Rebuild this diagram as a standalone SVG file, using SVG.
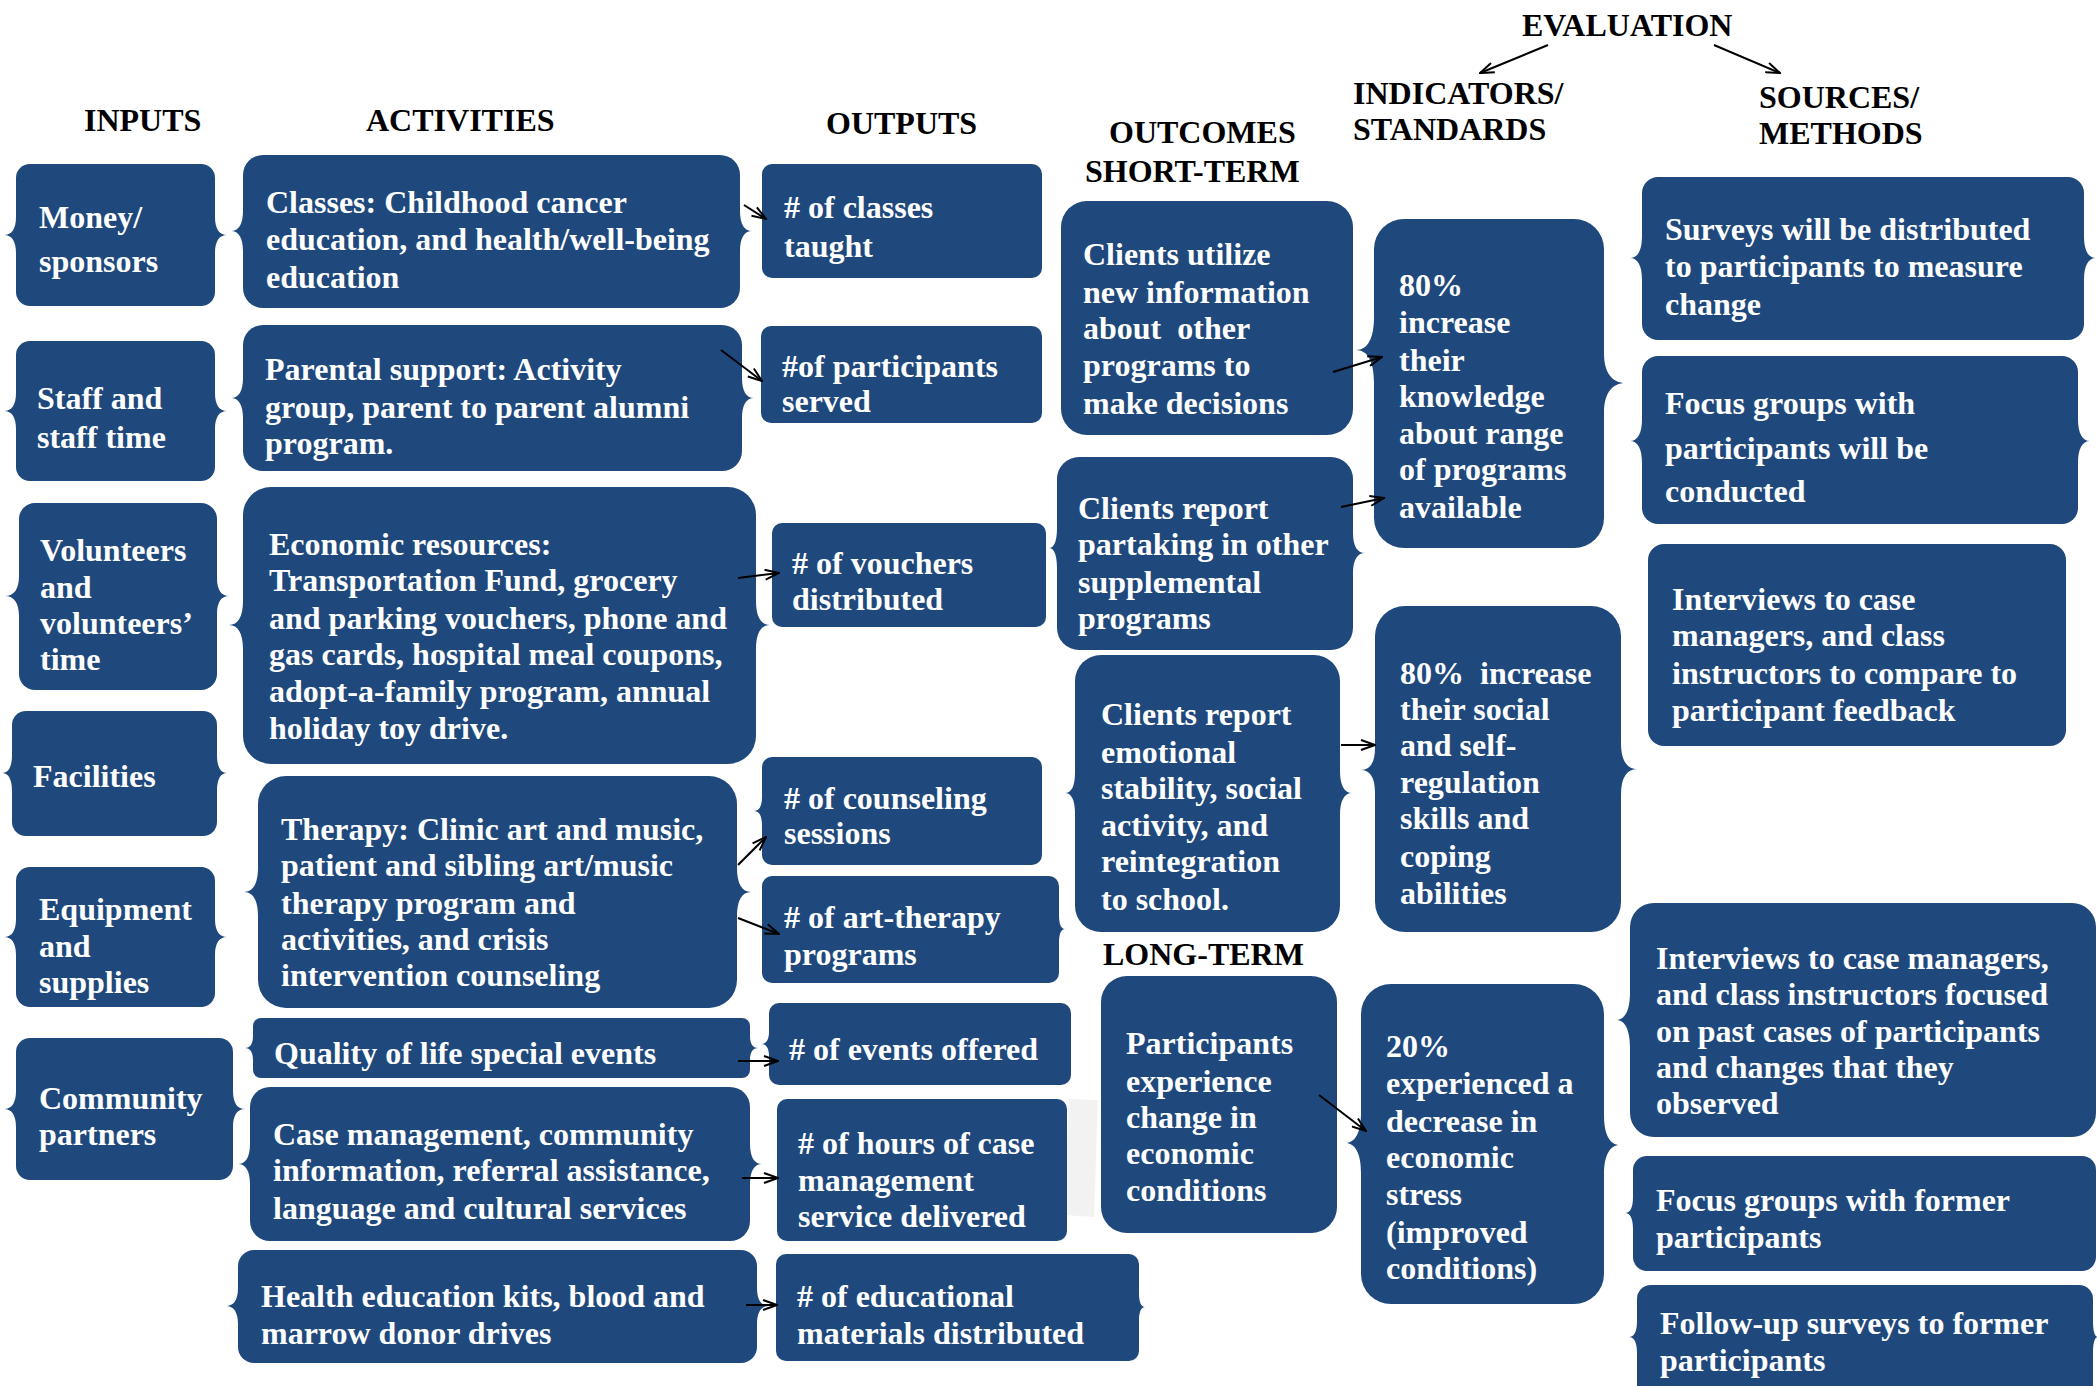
<svg xmlns="http://www.w3.org/2000/svg" xmlns:xlink="http://www.w3.org/1999/xlink" width="2097" height="1386" viewBox="0 0 2097 1386">
<style>
.n rect,.n use{fill:#1f497d}
.t{font-family:"Liberation Serif","Times New Roman",serif;font-weight:bold;font-size:32px;fill:#ffffff}
.h{font-family:"Liberation Serif","Times New Roman",serif;font-weight:bold;font-size:32px;fill:#000000}
.c line{stroke:#000;stroke-width:2;marker-end:url(#ah)}
</style>
<defs>
<path id="br" d="M-0.3,-1 L0,-1 C0,-0.35 0.35,0 1,0 C0.35,0 0,0.35 0,1 L-0.3,1 Z"/>
<marker id="ah" viewBox="0 0 16 12" refX="15" refY="6" markerWidth="16" markerHeight="12" markerUnits="userSpaceOnUse" orient="auto"><path d="M1,1 L15,6 L1,11" fill="none" stroke="#000" stroke-width="2"/></marker>
</defs>
<rect width="2097" height="1386" fill="#ffffff"/>

<g id="headers">
<text class="h" x="84" y="131">INPUTS</text>
<text class="h" x="366" y="131">ACTIVITIES</text>
<text class="h" x="826" y="134">OUTPUTS</text>
<text class="h" x="1109" y="143">OUTCOMES</text>
<text class="h" x="1085" y="182">SHORT-TERM</text>
<text class="h" x="1522" y="36">EVALUATION</text>
<text class="h" x="1353" y="104">INDICATORS/</text>
<text class="h" x="1353" y="140">STANDARDS</text>
<text class="h" x="1759" y="108">SOURCES/</text>
<text class="h" x="1759" y="144">METHODS</text>
<text class="h" x="1103" y="965">LONG-TERM</text>
</g>

<polygon points="1069,1099 1098,1100 1094,1217 1064,1215" fill="#f2f2f2"/>

<g id="in-money" class="n"><rect x="16" y="164" width="199" height="142" rx="14"/><use href="#br" transform="translate(16,235) scale(-12,18)"/><use href="#br" transform="translate(215,235) scale(12,18)"/>
<text class="t"><tspan x="39" y="228">Money/</tspan><tspan x="39" y="272">sponsors</tspan></text></g>
<g id="in-staff" class="n"><rect x="16" y="341" width="199" height="140" rx="14"/><use href="#br" transform="translate(16,411) scale(-12,18)"/><use href="#br" transform="translate(215,411) scale(12,18)"/>
<text class="t"><tspan x="37" y="409">Staff and</tspan><tspan x="37" y="448">staff time</tspan></text></g>
<g id="in-vol" class="n"><rect x="19" y="503" width="198" height="187" rx="16"/><use href="#br" transform="translate(19,596) scale(-14,20)"/><use href="#br" transform="translate(217,596) scale(12,18)"/>
<text class="t"><tspan x="40" y="561">Volunteers</tspan><tspan x="40" y="598">and</tspan><tspan x="40" y="634">volunteers’</tspan><tspan x="40" y="670">time</tspan></text></g>
<g id="in-fac" class="n"><rect x="12" y="711" width="205" height="125" rx="14"/><use href="#br" transform="translate(12,773) scale(-10,18)"/><use href="#br" transform="translate(217,773) scale(10,18)"/>
<text class="t"><tspan x="33" y="787">Facilities</tspan></text></g>
<g id="in-equip" class="n"><rect x="16" y="867" width="199" height="140" rx="14"/><use href="#br" transform="translate(16,937) scale(-12,18)"/><use href="#br" transform="translate(215,937) scale(12,18)"/>
<text class="t"><tspan x="39" y="920">Equipment</tspan><tspan x="39" y="957">and</tspan><tspan x="39" y="993">supplies</tspan></text></g>
<g id="in-comm" class="n"><rect x="16" y="1038" width="217" height="142" rx="14"/><use href="#br" transform="translate(16,1109) scale(-12,18)"/><use href="#br" transform="translate(233,1109) scale(12,18)"/>
<text class="t"><tspan x="39" y="1109">Community</tspan><tspan x="39" y="1145">partners</tspan></text></g>

<g id="act-classes" class="n"><rect x="243" y="155" width="497" height="153" rx="20"/><use href="#br" transform="translate(243,231) scale(-12,20)"/><use href="#br" transform="translate(740,231) scale(12,20)"/>
<text class="t"><tspan x="266" y="213">Classes: Childhood cancer</tspan><tspan x="266" y="250">education, and health/well-being</tspan><tspan x="266" y="288">education</tspan></text></g>
<g id="act-parental" class="n"><rect x="243" y="325" width="499" height="146" rx="20"/><use href="#br" transform="translate(243,398) scale(-12,20)"/><use href="#br" transform="translate(742,398) scale(12,20)"/>
<text class="t"><tspan x="265" y="380">Parental support: Activity</tspan><tspan x="265" y="418">group, parent to parent alumni</tspan><tspan x="265" y="454">program.</tspan></text></g>
<g id="act-econ" class="n"><rect x="243" y="487" width="513" height="277" rx="28"/><use href="#br" transform="translate(243,625) scale(-14,24)"/><use href="#br" transform="translate(756,625) scale(14,24)"/>
<text class="t"><tspan x="269" y="555">Economic resources:</tspan><tspan x="269" y="591">Transportation Fund, grocery</tspan><tspan x="269" y="629">and parking vouchers, phone and</tspan><tspan x="269" y="665">gas cards, hospital meal coupons,</tspan><tspan x="269" y="702">adopt-a-family program, annual</tspan><tspan x="269" y="739">holiday toy drive.</tspan></text></g>
<g id="act-therapy" class="n"><rect x="258" y="776" width="479" height="232" rx="28"/><use href="#br" transform="translate(258,892) scale(-14,24)"/><use href="#br" transform="translate(737,892) scale(14,24)"/>
<text class="t"><tspan x="281" y="840">Therapy: Clinic art and music,</tspan><tspan x="281" y="876">patient and sibling art/music</tspan><tspan x="281" y="914">therapy program and</tspan><tspan x="281" y="950">activities, and crisis</tspan><tspan x="281" y="986">intervention counseling</tspan></text></g>
<g id="act-quality" class="n"><rect x="253" y="1018" width="497" height="60" rx="8"/><use href="#br" transform="translate(253,1048) scale(-8,12)"/><use href="#br" transform="translate(750,1048) scale(8,12)"/>
<text class="t"><tspan x="274" y="1064">Quality of life special events</tspan></text></g>
<g id="act-case" class="n"><rect x="250" y="1087" width="500" height="154" rx="20"/><use href="#br" transform="translate(250,1164) scale(-12,20)"/><use href="#br" transform="translate(750,1164) scale(12,20)"/>
<text class="t"><tspan x="273" y="1145">Case management, community</tspan><tspan x="273" y="1181">information, referral assistance,</tspan><tspan x="273" y="1219">language and cultural services</tspan></text></g>
<g id="act-health" class="n"><rect x="238" y="1250" width="519" height="113" rx="16"/><use href="#br" transform="translate(238,1306) scale(-12,18)"/><use href="#br" transform="translate(757,1306) scale(12,18)"/>
<text class="t"><tspan x="261" y="1307">Health education kits, blood and</tspan><tspan x="261" y="1344">marrow donor drives</tspan></text></g>

<g id="out-classes" class="n"><rect x="762" y="164" width="280" height="114" rx="10"/>
<text class="t"><tspan x="784" y="218"># of classes</tspan><tspan x="784" y="257">taught</tspan></text></g>
<g id="out-part" class="n"><rect x="761" y="326" width="281" height="97" rx="10"/>
<text class="t"><tspan x="782" y="377">#of participants</tspan><tspan x="782" y="412">served</tspan></text></g>
<g id="out-vouch" class="n"><rect x="772" y="523" width="274" height="104" rx="10"/>
<text class="t"><tspan x="792" y="574"># of vouchers</tspan><tspan x="792" y="610">distributed</tspan></text></g>
<g id="out-couns" class="n"><rect x="762" y="757" width="280" height="108" rx="10"/><use href="#br" transform="translate(762,811) scale(-8,14)"/>
<text class="t"><tspan x="784" y="809"># of counseling</tspan><tspan x="784" y="844">sessions</tspan></text></g>
<g id="out-art" class="n"><rect x="762" y="876" width="297" height="107" rx="10"/><use href="#br" transform="translate(1059,929) scale(6,14)"/>
<text class="t"><tspan x="784" y="928"># of art-therapy</tspan><tspan x="784" y="965">programs</tspan></text></g>
<g id="out-events" class="n"><rect x="769" y="1003" width="302" height="82" rx="10"/><use href="#br" transform="translate(769,1044) scale(-8,12)"/>
<text class="t"><tspan x="789" y="1060"># of events offered</tspan></text></g>
<g id="out-hours" class="n"><rect x="777" y="1099" width="290" height="142" rx="10"/>
<text class="t"><tspan x="798" y="1154"># of hours of case</tspan><tspan x="798" y="1191">management</tspan><tspan x="798" y="1227">service delivered</tspan></text></g>
<g id="out-edu" class="n"><rect x="776" y="1254" width="363" height="107" rx="10"/><use href="#br" transform="translate(1139,1307) scale(6,14)"/>
<text class="t"><tspan x="797" y="1307"># of educational</tspan><tspan x="797" y="1344">materials distributed</tspan></text></g>

<g id="oc-utilize" class="n"><rect x="1061" y="201" width="292" height="234" rx="26"/>
<text class="t" style="white-space:pre"><tspan x="1083" y="265">Clients utilize</tspan><tspan x="1083" y="303">new information</tspan><tspan x="1083" y="339">about  other</tspan><tspan x="1083" y="376">programs to</tspan><tspan x="1083" y="414">make decisions</tspan></text></g>
<g id="oc-partake" class="n"><rect x="1057" y="457" width="296" height="193" rx="22"/><use href="#br" transform="translate(1057,548) scale(-8,20)"/><use href="#br" transform="translate(1353,553) scale(12,20)"/>
<text class="t"><tspan x="1078" y="519">Clients report</tspan><tspan x="1078" y="555">partaking in other</tspan><tspan x="1078" y="593">supplemental</tspan><tspan x="1078" y="629">programs</tspan></text></g>
<g id="oc-emot" class="n"><rect x="1075" y="655" width="265" height="277" rx="26"/><use href="#br" transform="translate(1075,793) scale(-10,20)"/><use href="#br" transform="translate(1340,793) scale(12,22)"/>
<text class="t"><tspan x="1101" y="725">Clients report</tspan><tspan x="1101" y="763">emotional</tspan><tspan x="1101" y="799">stability, social</tspan><tspan x="1101" y="836">activity, and</tspan><tspan x="1101" y="872">reintegration</tspan><tspan x="1101" y="910">to school.</tspan></text></g>
<g id="oc-part" class="n"><rect x="1101" y="976" width="236" height="257" rx="26"/>
<text class="t"><tspan x="1126" y="1054">Participants</tspan><tspan x="1126" y="1092">experience</tspan><tspan x="1126" y="1128">change in</tspan><tspan x="1126" y="1164">economic</tspan><tspan x="1126" y="1201">conditions</tspan></text></g>

<g id="ind-know" class="n"><rect x="1374" y="219" width="230" height="329" rx="30"/><use href="#br" transform="translate(1374,350) scale(-18,33)"/><use href="#br" transform="translate(1604,383) scale(22,30)"/>
<text class="t"><tspan x="1399" y="296">80%</tspan><tspan x="1399" y="333">increase</tspan><tspan x="1399" y="371">their</tspan><tspan x="1399" y="407">knowledge</tspan><tspan x="1399" y="444">about range</tspan><tspan x="1399" y="480">of programs</tspan><tspan x="1399" y="518">available</tspan></text></g>
<g id="ind-social" class="n"><rect x="1375" y="606" width="246" height="326" rx="30"/><use href="#br" transform="translate(1375,770) scale(-14,22)"/><use href="#br" transform="translate(1621,769) scale(16,26)"/>
<text class="t" style="white-space:pre"><tspan x="1400" y="684">80%  increase</tspan><tspan x="1400" y="720">their social</tspan><tspan x="1400" y="756">and self-</tspan><tspan x="1400" y="793">regulation</tspan><tspan x="1400" y="829">skills and</tspan><tspan x="1400" y="867">coping</tspan><tspan x="1400" y="904">abilities</tspan></text></g>
<g id="ind-econ" class="n"><rect x="1361" y="984" width="243" height="320" rx="30"/><use href="#br" transform="translate(1361,1143) scale(-16,30)"/><use href="#br" transform="translate(1604,1145) scale(16,30)"/>
<text class="t"><tspan x="1386" y="1057">20%</tspan><tspan x="1386" y="1094">experienced a</tspan><tspan x="1386" y="1132">decrease in</tspan><tspan x="1386" y="1168">economic</tspan><tspan x="1386" y="1205">stress</tspan><tspan x="1386" y="1243">(improved</tspan><tspan x="1386" y="1279">conditions)</tspan></text></g>

<g id="src-surveys" class="n"><rect x="1642" y="177" width="442" height="163" rx="16"/><use href="#br" transform="translate(1642,258) scale(-12,22)"/><use href="#br" transform="translate(2084,258) scale(12,22)"/>
<text class="t"><tspan x="1665" y="240">Surveys will be distributed</tspan><tspan x="1665" y="277">to participants to measure</tspan><tspan x="1665" y="315">change</tspan></text></g>
<g id="src-focus" class="n"><rect x="1642" y="356" width="436" height="168" rx="16"/><use href="#br" transform="translate(1642,441) scale(-12,22)"/><use href="#br" transform="translate(2078,441) scale(12,22)"/>
<text class="t"><tspan x="1665" y="414">Focus groups with</tspan><tspan x="1665" y="459">participants will be</tspan><tspan x="1665" y="502">conducted</tspan></text></g>
<g id="src-interv1" class="n"><rect x="1648" y="544" width="418" height="202" rx="16"/>
<text class="t"><tspan x="1672" y="610">Interviews to case</tspan><tspan x="1672" y="646">managers, and class</tspan><tspan x="1672" y="684">instructors to compare to</tspan><tspan x="1672" y="721">participant feedback</tspan></text></g>
<g id="src-interv2" class="n"><rect x="1630" y="903" width="466" height="234" rx="24"/><use href="#br" transform="translate(1630,1020) scale(-14,28)"/>
<text class="t"><tspan x="1656" y="969">Interviews to case managers,</tspan><tspan x="1656" y="1005">and class instructors focused</tspan><tspan x="1656" y="1042">on past cases of participants</tspan><tspan x="1656" y="1078">and changes that they</tspan><tspan x="1656" y="1114">observed</tspan></text></g>
<g id="src-focus2" class="n"><rect x="1633" y="1156" width="463" height="115" rx="14"/><use href="#br" transform="translate(1633,1213) scale(-8,16)"/>
<text class="t"><tspan x="1656" y="1211">Focus groups with former</tspan><tspan x="1656" y="1248">participants</tspan></text></g>
<g id="src-follow" class="n"><rect x="1637" y="1285" width="456" height="120" rx="14"/><use href="#br" transform="translate(1637,1337) scale(-8,16)"/><use href="#br" transform="translate(2093,1337) scale(5,16)"/>
<text class="t"><tspan x="1660" y="1334">Follow-up surveys to former</tspan><tspan x="1660" y="1371">participants</tspan></text></g>

<g id="connectors" class="c">
<line x1="744" y1="205" x2="766" y2="219"/>
<line x1="721" y1="350" x2="762" y2="381"/>
<line x1="738" y1="578" x2="779" y2="573"/>
<line x1="738" y1="865" x2="766" y2="837"/>
<line x1="738" y1="918" x2="779" y2="934"/>
<line x1="738" y1="1061" x2="778" y2="1061"/>
<line x1="742" y1="1178" x2="778" y2="1178"/>
<line x1="746" y1="1305" x2="777" y2="1305"/>
<line x1="1333" y1="372" x2="1382" y2="357"/>
<line x1="1341" y1="507" x2="1384" y2="498"/>
<line x1="1341" y1="745" x2="1375" y2="745"/>
<line x1="1319" y1="1095" x2="1366" y2="1131"/>
<line x1="1548" y1="45" x2="1480" y2="73"/>
<line x1="1714" y1="45" x2="1780" y2="73"/>
</g>
</svg>
